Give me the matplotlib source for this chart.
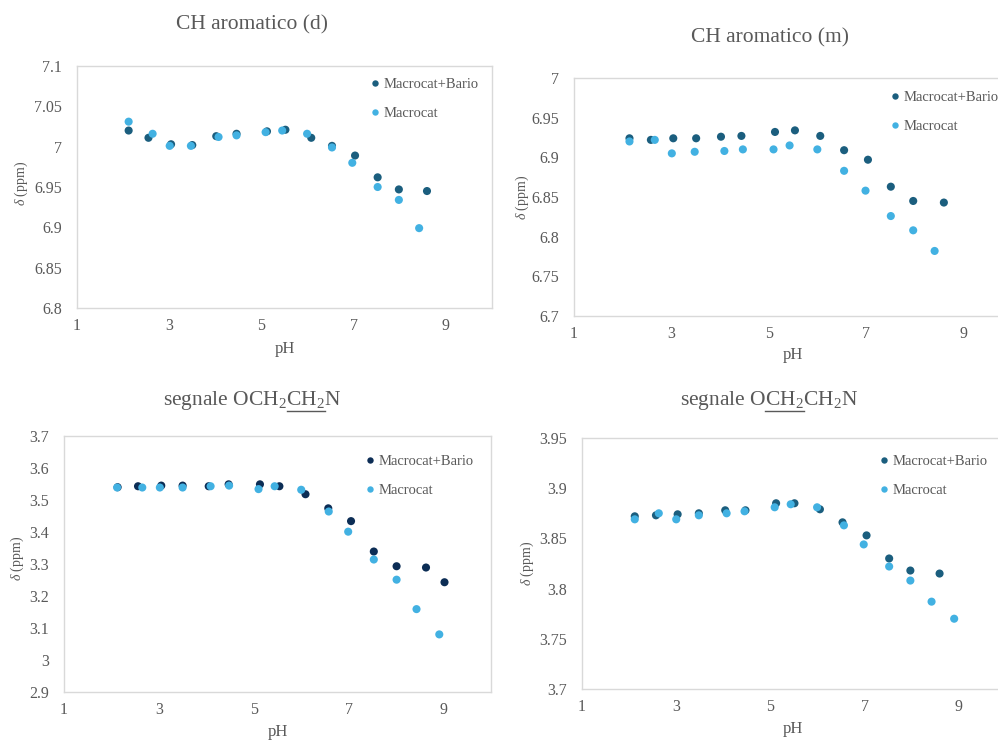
import matplotlib
matplotlib.use("Agg")
import matplotlib.pyplot as plt
from matplotlib.lines import Line2D
import numpy as np

plt.rcParams["font.family"] = ["Liberation Serif", "DejaVu Serif"]
plt.rcParams["mathtext.fontset"] = "custom"
plt.rcParams["mathtext.rm"] = "Liberation Serif"
plt.rcParams["mathtext.it"] = "Liberation Serif:italic"

# ---- data: chemical shift (ppm) vs pH ----
# CH aromatico (d)
ph_d_bario = [2.12, 2.55, 3.04, 3.50, 4.02, 4.46, 5.12, 5.52, 6.08, 6.53, 7.03, 7.52, 7.98, 8.59]
shift_d_bario = [7.020, 7.011, 7.003, 7.002, 7.013, 7.016, 7.019, 7.021, 7.011, 7.001, 6.989, 6.962, 6.947, 6.945]
ph_d_macro = [2.12, 2.64, 3.01, 3.47, 4.07, 4.46, 5.09, 5.45, 5.99, 6.53, 6.97, 7.52, 7.98, 8.42]
shift_d_macro = [7.031, 7.016, 7.001, 7.001, 7.012, 7.014, 7.018, 7.020, 7.016, 6.999, 6.980, 6.950, 6.934, 6.899]

# CH aromatico (m)
ph_m_bario = [2.14, 2.58, 3.04, 3.51, 4.02, 4.44, 5.13, 5.54, 6.06, 6.55, 7.04, 7.51, 7.97, 8.60]
shift_m_bario = [6.924, 6.922, 6.924, 6.924, 6.926, 6.927, 6.932, 6.934, 6.927, 6.909, 6.897, 6.863, 6.845, 6.843]
ph_m_macro = [2.14, 2.66, 3.01, 3.48, 4.09, 4.47, 5.10, 5.43, 6.00, 6.55, 6.99, 7.51, 7.97, 8.41]
shift_m_macro = [6.920, 6.922, 6.905, 6.907, 6.908, 6.910, 6.910, 6.915, 6.910, 6.883, 6.858, 6.826, 6.808, 6.782]

# segnale OCH2CH2N (underlined CH2 next to N)
ph_n_bario = [2.13, 2.56, 3.05, 3.50, 4.05, 4.47, 5.13, 5.54, 6.09, 6.57, 7.05, 7.53, 8.01, 8.63, 9.02]
shift_n_bario = [3.540, 3.543, 3.545, 3.545, 3.543, 3.549, 3.549, 3.543, 3.518, 3.474, 3.434, 3.339, 3.293, 3.289, 3.243]
ph_n_macro = [2.12, 2.65, 3.02, 3.50, 4.09, 4.48, 5.10, 5.44, 6.00, 6.58, 6.99, 7.53, 8.01, 8.43, 8.91]
shift_n_macro = [3.539, 3.539, 3.539, 3.539, 3.543, 3.545, 3.534, 3.543, 3.532, 3.464, 3.401, 3.314, 3.251, 3.159, 3.080]

# segnale OCH2CH2N (underlined CH2 next to O)
ph_o_bario = [2.12, 2.57, 3.03, 3.48, 4.04, 4.47, 5.12, 5.51, 6.05, 6.53, 7.04, 7.52, 7.97, 8.59]
shift_o_bario = [3.872, 3.873, 3.874, 3.875, 3.878, 3.878, 3.885, 3.885, 3.879, 3.866, 3.853, 3.830, 3.818, 3.815]
ph_o_macro = [2.12, 2.63, 3.00, 3.48, 4.07, 4.45, 5.09, 5.43, 5.99, 6.56, 6.98, 7.52, 7.97, 8.42, 8.90]
shift_o_macro = [3.869, 3.875, 3.869, 3.873, 3.875, 3.877, 3.881, 3.884, 3.881, 3.863, 3.844, 3.822, 3.808, 3.787, 3.770]

series_labels = ["Macrocat+Bario", "Macrocat"]

# ---- styling ----
W, H = 998, 740
GREY = "#595959"
SPINE = "#d9d9d9"
TEAL = "#1b5e7e"
NAVY = "#0c2d55"
LIGHT = "#42b1e2"

fig = plt.figure(figsize=(W / 100, H / 100), dpi=100)
fig.patch.set_facecolor("white")


def px_axes(left, right, top, bottom):
    return fig.add_axes([left / W, 1 - bottom / H, (right - left) / W, (bottom - top) / H])


def style_axes(ax, ylim, ystep):
    ax.set_xlim(1, 10)
    ax.set_ylim(*ylim)
    ax.set_xticks([1, 3, 5, 7, 9])
    yt = np.round(np.arange(ylim[0], ylim[1] + ystep / 2, ystep), 3)
    ax.set_yticks(yt)
    ax.set_yticklabels([f"{v:g}" for v in yt])
    ax.set_xticklabels(["1", "3", "5", "7", "9"])
    for s in ax.spines.values():
        s.set_color(SPINE)
        s.set_linewidth(1.0)
    ax.tick_params(length=0, labelsize=11.5, colors=GREY)
    ax.tick_params(axis="y", pad=11)
    ax.tick_params(axis="x", pad=7)


def draw_series(ax, xb, yb, xm, ym, dark):
    ax.scatter(xb, yb, s=34, color=dark, edgecolors="none", zorder=3, label=series_labels[0])
    ax.scatter(xm, ym, s=34, color=LIGHT, edgecolors="none", zorder=4, label=series_labels[1])


def legend_at(ax, x, y, dark):
    handles = [
        Line2D([], [], ls="none", marker="o", ms=4.6, color=dark, mec="none"),
        Line2D([], [], ls="none", marker="o", ms=4.6, color=LIGHT, mec="none"),
    ]
    leg = ax.legend(handles, series_labels, loc="upper left",
                    bbox_to_anchor=(x / W, 1 - y / H), bbox_transform=fig.transFigure,
                    frameon=False, fontsize=10.5, handlelength=0.6, handletextpad=0.25,
                    labelspacing=1.05, borderpad=0, borderaxespad=0)
    for t in leg.get_texts():
        t.set_color(GREY)


def label_axes(ax, xl, yl):
    fig.text(xl[0] / W, 1 - xl[1] / H, "pH", ha="center", va="center", fontsize=12, color=GREY)
    fig.text(yl[0] / W, 1 - yl[1] / H, r"$\it{\delta}$ (ppm)", ha="center", va="center",
             fontsize=10, color=GREY, rotation=90)


renderer = fig.canvas.get_renderer()


def text_width(s, size):
    t = fig.text(0, 0, s, fontsize=size)
    w = t.get_window_extent(renderer).width
    t.remove()
    return w


def title_at(x, y, s, size=15.5, underline=None):
    """Centered title in pixel coords; underline=(prefix, prefix+part) marks an underlined span."""
    total = text_width(s, size)
    x0 = x - total / 2
    fig.text(x0 / W, 1 - y / H, s, ha="left", va="center", fontsize=size, color=GREY)
    if underline is not None:
        a = text_width(underline[0], size)
        b = text_width(underline[1], size)
        yl = y + 9.5
        fig.add_artist(Line2D([(x0 + a) / W, (x0 + b) / W], [1 - yl / H, 1 - yl / H],
                              color=GREY, lw=1.0, transform=fig.transFigure))


# Panel 1: CH aromatico (d)
ax1 = px_axes(77, 492, 66, 308)
style_axes(ax1, (6.8, 7.1), 0.05)
draw_series(ax1, ph_d_bario, shift_d_bario, ph_d_macro, shift_d_macro, TEAL)
legend_at(ax1, 371, 78, TEAL)
label_axes(ax1, (285, 349), (21, 183))
title_at(252, 25, "CH aromatico (d)")

# Panel 2: CH aromatico (m)
ax2 = px_axes(574, 1012, 78, 316)
style_axes(ax2, (6.7, 7.0), 0.05)
draw_series(ax2, ph_m_bario, shift_m_bario, ph_m_macro, shift_m_macro, TEAL)
legend_at(ax2, 891, 91, TEAL)
label_axes(ax2, (793, 355), (522, 197))
title_at(770, 38, "CH aromatico (m)")

# Panel 3: segnale OCH2CH2N (N side)
ax3 = px_axes(64, 491, 436, 692)
style_axes(ax3, (2.9, 3.7), 0.1)
draw_series(ax3, ph_n_bario, shift_n_bario, ph_n_macro, shift_n_macro, NAVY)
legend_at(ax3, 366, 455, NAVY)
label_axes(ax3, (278, 732), (17, 558))
title_at(252, 401, r"segnale OCH$_2$CH$_2$N",
         underline=(r"segnale OCH$_2$", r"segnale OCH$_2$CH$_2$"))

# Panel 4: segnale OCH2CH2N (O side)
ax4 = px_axes(582, 1006, 438, 689)
style_axes(ax4, (3.7, 3.95), 0.05)
draw_series(ax4, ph_o_bario, shift_o_bario, ph_o_macro, shift_o_macro, TEAL)
legend_at(ax4, 880, 455, TEAL)
label_axes(ax4, (793, 729), (527, 563))
title_at(769, 401, r"segnale OCH$_2$CH$_2$N",
         underline=(r"segnale O", r"segnale OCH$_2$"))

fig.savefig("out.png", dpi=100, facecolor="white")
